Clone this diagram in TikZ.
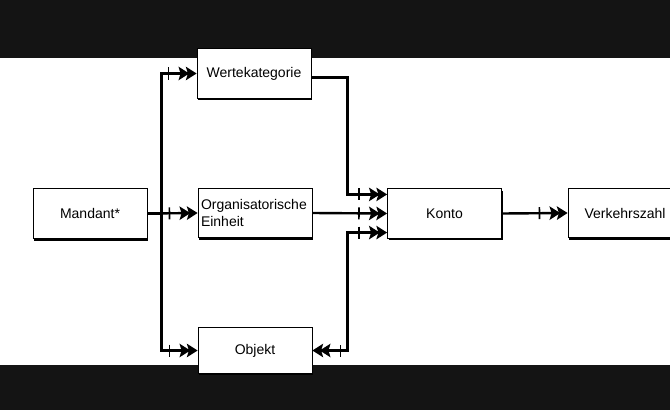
\documentclass[tikz,border=0pt]{standalone}
\usepackage{fontspec}
\setmainfont{Liberation Sans}
\usetikzlibrary{arrows.meta, shadows}

\begin{document}
\begin{tikzpicture}[x=0.75pt, y=-0.75pt, font=\fontsize{10.5}{12.5}\selectfont,
  entity/.style={draw, line width=0.6pt, fill=white, minimum width=85.5pt, minimum height=37pt, inner sep=2pt,
    drop shadow={shadow xshift=0.8pt, shadow yshift=-1.5pt, opacity=1, fill=black}},
  rel/.style={line width=1.8pt, -{Bar[width=9pt,line width=1.2pt,sep=7pt]Stealth[length=8pt,width=10pt,inset=1.5pt,sep=-2.5pt]Stealth[length=8pt,width=10pt,inset=1.5pt]}},
  relboth/.style={line width=1.8pt, {Stealth[length=8pt,width=10pt,inset=1.5pt]Stealth[length=8pt,width=10pt,inset=1.5pt,sep=-2.5pt]Bar[width=9pt,line width=1.2pt,sep=7pt]}-{Bar[width=9pt,line width=1.2pt,sep=7pt]Stealth[length=8pt,width=10pt,inset=1.5pt,sep=-2.5pt]Stealth[length=8pt,width=10pt,inset=1.5pt]}},
  band/.style={fill=black!92}]
\useasboundingbox (0,0) rectangle (670,410);
\fill[band] (0,0) rectangle (670,58);
\fill[band] (0,365) rectangle (670,410);

\node[entity, minimum height=38pt] (mandant) at (90,213.5) {Mandant*};
\node[entity] (werte) at (254,73.5) {Wertekategorie};
\node[entity, text width=81pt, align=left] (org) at (255,213) {Organisatorische\\Einheit};
\node[entity, minimum height=34pt] (objekt) at (255,350.5) {Objekt};
\node[entity] (konto) at (444.5,213.5) {Konto};
\node[entity] (verkehr) at (625,213) {Verkehrszahl};

\draw[rel] (mandant.east) -- (org.west);
\draw[rel] (mandant.east) -- ++(14,0) |- (werte.west);
\draw[rel] (mandant.east) -- ++(14,0) |- (objekt.west);
\draw[rel] ([yshift=-3pt]werte.east) -- ++(36,0) |- ([yshift=-4.5pt]konto.north west);
\draw[rel] (org.east) -- (konto.west);
\draw[relboth] (objekt.east) -- ++(35,0) |- ([yshift=4.5pt]konto.south west);
\draw[rel] (konto.east) -- (verkehr.west);
\end{tikzpicture}
\end{document}
